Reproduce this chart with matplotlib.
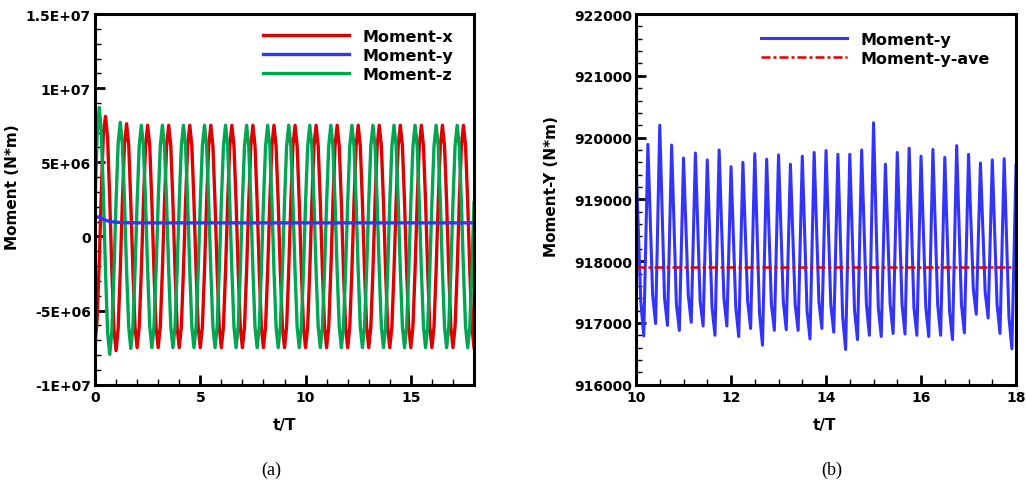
"""
Moment histories: (a) all three components over the full run,
(b) close-up of Moment-y with its mean.
"""

import matplotlib.pyplot as plt
import numpy as np
from matplotlib.ticker import MultipleLocator

plt.rcParams['font.family'] = ['DejaVu Sans']
plt.rcParams['font.weight'] = 'bold'
plt.rcParams['axes.labelweight'] = 'bold'

# ---- panel (a): samples every 0.1 T, one row per period, values in 1e6 N*m
step_a = 0.1
moment_x_rows = [
  [-7.4, -5.6, -1.8, 3.0, 7.0, 8.1, 6.6, 2.5, -2.4, -6.3],
  [-7.7, -6.2, -2.3, 2.4, 6.2, 7.6, 6.2, 2.3, -2.3, -6.1],
  [-7.5, -6.1, -2.3, 2.3, 6.1, 7.5, 6.1, 2.3, -2.3, -6.1],
  [-7.5, -6.1, -2.3, 2.3, 6.1, 7.5, 6.1, 2.3, -2.3, -6.1],
  [-7.5, -6.1, -2.3, 2.3, 6.1, 7.5, 6.1, 2.3, -2.3, -6.1],
  [-7.5, -6.1, -2.3, 2.3, 6.1, 7.5, 6.1, 2.3, -2.3, -6.1],
  [-7.5, -6.1, -2.3, 2.3, 6.1, 7.5, 6.1, 2.3, -2.3, -6.1],
  [-7.5, -6.1, -2.3, 2.3, 6.1, 7.5, 6.1, 2.3, -2.3, -6.1],
  [-7.5, -6.1, -2.3, 2.3, 6.1, 7.5, 6.1, 2.3, -2.3, -6.1],
  [-7.5, -6.1, -2.3, 2.3, 6.1, 7.5, 6.1, 2.3, -2.3, -6.1],
  [-7.5, -6.1, -2.3, 2.3, 6.1, 7.5, 6.1, 2.3, -2.3, -6.1],
  [-7.5, -6.1, -2.3, 2.3, 6.1, 7.5, 6.1, 2.3, -2.3, -6.1],
  [-7.5, -6.1, -2.3, 2.3, 6.1, 7.5, 6.1, 2.3, -2.3, -6.1],
  [-7.5, -6.1, -2.3, 2.3, 6.1, 7.5, 6.1, 2.3, -2.3, -6.1],
  [-7.5, -6.1, -2.3, 2.3, 6.1, 7.5, 6.1, 2.3, -2.3, -6.1],
  [-7.5, -6.1, -2.3, 2.3, 6.1, 7.5, 6.1, 2.3, -2.3, -6.1],
  [-7.5, -6.1, -2.3, 2.3, 6.1, 7.5, 6.1, 2.3, -2.3, -6.1],
  [-7.5, -6.1, -2.3, 2.3, 6.1, 7.5, 6.1, 2.3, -2.3, -6.1],
]
moment_x_end = -7.5

moment_z_rows = [
  [2.2, 6.8, 8.7, 7.0, 2.8, -2.4, -6.5, -7.95, -6.4, -2.4],
  [2.4, 6.3, 7.7, 6.2, 2.4, -2.3, -6.1, -7.55, -6.1, -2.3],
  [2.3, 6.1, 7.5, 6.1, 2.3, -2.3, -6.1, -7.5, -6.1, -2.3],
  [2.3, 6.1, 7.5, 6.1, 2.3, -2.3, -6.1, -7.5, -6.1, -2.3],
  [2.3, 6.1, 7.5, 6.1, 2.3, -2.3, -6.1, -7.5, -6.1, -2.3],
  [2.3, 6.1, 7.5, 6.1, 2.3, -2.3, -6.1, -7.5, -6.1, -2.3],
  [2.3, 6.1, 7.5, 6.1, 2.3, -2.3, -6.1, -7.5, -6.1, -2.3],
  [2.3, 6.1, 7.5, 6.1, 2.3, -2.3, -6.1, -7.5, -6.1, -2.3],
  [2.3, 6.1, 7.5, 6.1, 2.3, -2.3, -6.1, -7.5, -6.1, -2.3],
  [2.3, 6.1, 7.5, 6.1, 2.3, -2.3, -6.1, -7.5, -6.1, -2.3],
  [2.3, 6.1, 7.5, 6.1, 2.3, -2.3, -6.1, -7.5, -6.1, -2.3],
  [2.3, 6.1, 7.5, 6.1, 2.3, -2.3, -6.1, -7.5, -6.1, -2.3],
  [2.3, 6.1, 7.5, 6.1, 2.3, -2.3, -6.1, -7.5, -6.1, -2.3],
  [2.3, 6.1, 7.5, 6.1, 2.3, -2.3, -6.1, -7.5, -6.1, -2.3],
  [2.3, 6.1, 7.5, 6.1, 2.3, -2.3, -6.1, -7.5, -6.1, -2.3],
  [2.3, 6.1, 7.5, 6.1, 2.3, -2.3, -6.1, -7.5, -6.1, -2.3],
  [2.3, 6.1, 7.5, 6.1, 2.3, -2.3, -6.1, -7.5, -6.1, -2.3],
  [2.3, 6.1, 7.5, 6.1, 2.3, -2.3, -6.1, -7.5, -6.1, -2.3],
]
moment_z_end = 2.3

moment_y_t = [0, 0.15, 0.3, 0.5, 0.7, 1.0, 1.4, 2.0, 3.0, 6.0, 10.0, 14.0, 18.0]
moment_y_a = [1.30, 1.32, 1.22, 1.10, 1.01, 0.96, 0.93, 0.92, 0.918,
              0.918, 0.918, 0.918, 0.918]

yticks_a = [-1e7, -5e6, 0, 5e6, 1e7, 1.5e7]
ytick_labels_a = ["-1E+07", "-5E+06", "0", "5E+06", "1E+07", "1.5E+07"]

# ---- panel (b): one peak / shoulder / trough per quarter period, N*m
period_b = 0.25
peaks_b = [919600, 919890, 920200, 919880, 919670, 919750, 919640, 919800,
           919530, 919600, 919740, 919650, 919720, 919570, 919700, 919760,
           919790, 919730, 919730, 919800, 920240, 919570, 919760, 919830,
           919700, 919810, 919680, 919870, 919730, 919590, 919640, 919660,
           919550]
shoulders_b = [917350, 917450, 917400, 917300, 917450, 917350, 917250, 917400,
               917250, 917350, 917150, 917300, 917350, 917300, 917200, 917350,
               917300, 917100, 917200, 917300, 917250, 917300, 917300, 917250,
               917250, 917300, 917200, 917300, 917550, 917500, 917300, 917100]
troughs_b = [916790, 916990, 916960, 916880, 917010, 916950, 916800, 916950,
             916780, 916910, 916640, 916880, 916890, 916880, 916740, 916910,
             916850, 916570, 916730, 916800, 916780, 916830, 916820, 916800,
             916780, 916800, 916730, 916840, 917140, 917080, 916830, 916580]
moment_y_ave = 917900

RED = "#dd0000"
GREEN = "#00a651"
BLUE = "#3333ff"
SPINE_W = 2.2


def style_axes(ax):
  for sp in ax.spines.values():
    sp.set_linewidth(SPINE_W)
  ax.tick_params(which="both", direction="in", top=False, right=False,
                 labelsize=10)
  ax.tick_params(which="major", length=7, width=2.0)
  ax.tick_params(which="minor", length=4, width=1.0)
  ax.tick_params(axis="y", pad=3)
  ax.tick_params(axis="x", pad=4)
  for lab in ax.get_xticklabels() + ax.get_yticklabels():
    lab.set_fontweight("bold")


def build_panel_b():
  ts, vs = [], []
  for k in range(len(troughs_b)):
    t0 = 10 + k * period_b
    ts += [t0, t0 + 0.4 * period_b, t0 + 0.65 * period_b]
    vs += [peaks_b[k], shoulders_b[k], troughs_b[k]]
  ts.append(10 + len(troughs_b) * period_b)
  vs.append(peaks_b[-1])
  return ts, vs


def main():
  fig = plt.figure(figsize=(10.26, 4.89), dpi=100)

  # ---- (a)
  ax1 = fig.add_axes([0.0926, 0.2112, 0.3694, 0.758])
  mx = np.array(sum(moment_x_rows, []) + [moment_x_end]) * 1e6
  mz = np.array(sum(moment_z_rows, []) + [moment_z_end]) * 1e6
  t_a = np.arange(len(mx)) * step_a
  l_x, = ax1.plot(t_a, mx, color=RED, lw=2.4, label="Moment-x")
  l_z, = ax1.plot(t_a, mz, color=GREEN, lw=2.4, label="Moment-z")
  l_y, = ax1.plot(moment_y_t, np.array(moment_y_a) * 1e6, color=BLUE,
                  lw=2.4, label="Moment-y")
  ax1.set_xlim(0, 18)
  ax1.set_ylim(-1e7, 1.5e7)
  ax1.set_yticks(yticks_a)
  ax1.set_yticklabels(ytick_labels_a)
  ax1.set_xticks([0, 5, 10, 15])
  ax1.xaxis.set_minor_locator(MultipleLocator(1))
  ax1.yaxis.set_minor_locator(MultipleLocator(1e6))
  style_axes(ax1)
  ax1.set_ylabel("Moment (N*m)", fontsize=11, fontweight="bold")
  ax1.yaxis.set_label_coords(-0.198, 0.536)
  ax1.set_xlabel("t/T", fontsize=11, fontweight="bold")
  ax1.xaxis.set_label_coords(0.499, -0.087)
  ax1.legend(handles=[l_x, l_y, l_z], loc="upper left",
             bbox_to_anchor=(263 / 1026, 1 - 30 / 489),
             bbox_transform=fig.transFigure, frameon=False, fontsize=11.5,
             handlelength=5.4, handletextpad=0.85, labelspacing=0.25,
             borderpad=0, borderaxespad=0)

  # ---- (b)
  ax2 = fig.add_axes([0.6199, 0.2112, 0.3704, 0.758])
  t_b, v_b = build_panel_b()
  l_b, = ax2.plot(t_b, v_b, color=BLUE, lw=2.2, label="Moment-y")
  l_ave = ax2.axhline(moment_y_ave, color=RED, lw=1.8,
                      linestyle=(0, (3.6, 1.2, 1.2, 1.2)),
                      label="Moment-y-ave")
  ax2.set_xlim(10, 18)
  ax2.set_ylim(916000, 922000)
  ax2.set_xticks([10, 12, 14, 16, 18])
  ax2.set_yticks([916000, 917000, 918000, 919000, 920000, 921000, 922000])
  ax2.xaxis.set_minor_locator(MultipleLocator(0.5))
  ax2.yaxis.set_minor_locator(MultipleLocator(200))
  style_axes(ax2)
  ax2.set_ylabel("Moment-Y (N*m)", fontsize=11, fontweight="bold")
  ax2.yaxis.set_label_coords(-0.203, 0.536)
  ax2.set_xlabel("t/T", fontsize=11, fontweight="bold")
  ax2.xaxis.set_label_coords(0.497, -0.087)
  ax2.legend(handles=[l_b, l_ave], loc="upper left",
             bbox_to_anchor=(761 / 1026, 1 - 33 / 489),
             bbox_transform=fig.transFigure, frameon=False, fontsize=11.5,
             handlelength=5.4, handletextpad=0.85, labelspacing=0.25,
             borderpad=0, borderaxespad=0)

  fig.text(271 / 1026, 1 - 470 / 489, "(a)", ha="center", va="center",
           fontsize=13, family="Liberation Serif", weight="normal")
  fig.text(832 / 1026, 1 - 470 / 489, "(b)", ha="center", va="center",
           fontsize=13, family="Liberation Serif", weight="normal")

  fig.savefig("out.png", dpi=100)


if __name__ == "__main__":
  main()
